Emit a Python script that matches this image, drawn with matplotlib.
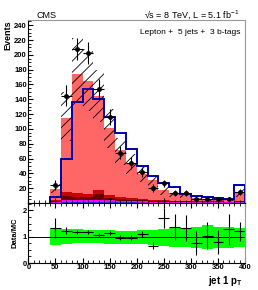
import matplotlib
matplotlib.use('Agg')
import matplotlib.pyplot as plt
from matplotlib.ticker import MultipleLocator
import numpy as np

plt.rcParams['font.family'] = ['Liberation Sans', 'DejaVu Sans']
plt.rcParams['hatch.linewidth'] = 0.6

# 20 GeV bins from 40 to 400
bin_edges = np.arange(40, 401, 20)
bin_centers = bin_edges[:-1] + 10

# stacked backgrounds, bottom to top
bkg_ttv = [0.3, 1, 1, 1, 1, 1, 0.8, 0.7, 0.6, 0.5, 0.5, 0.4, 0.4, 0.3, 0.3, 0.3, 0.3, 0.4]
bkg_singlet = [1, 2.5, 2.5, 2.5, 2.5, 2.5, 2.2, 2, 1.8, 1.5, 1.3, 1.2, 1.1, 1, 1, 0.9, 0.8, 1.2]
bkg_ttbb = [1.5, 6, 5, 5, 8.5, 3, 2.5, 1.5, 1.5, 1.2, 1, 0.8, 0.8, 0.6, 0.5, 0.5, 0.4, 0.8]
bkg_ttb = [0.8, 5, 4.5, 3.5, 5.5, 4.5, 3, 2, 1.2, 1.2, 1, 0.8, 0.8, 0.6, 0.5, 0.5, 0.4, 0.8]
bkg_ttlf = [15.9, 100.5, 161, 153, 127.5, 90, 62.5, 47.8, 33.9, 26.6, 13.2, 8.8, 8.4, 4.5, 3.7, 3.8, 3.1, 10.8]

# relative MC uncertainty (up / down)
mc_unc_up = [1.32, 1.30, 1.28, 1.26, 1.24, 1.26, 1.23, 1.23, 1.25, 1.25, 1.28, 1.32, 1.32, 1.38, 1.44, 1.38, 1.38, 1.32]
mc_unc_dn = [0.70, 0.73, 0.75, 0.75, 0.75, 0.73, 0.72, 0.72, 0.71, 0.69, 0.66, 0.62, 0.62, 0.56, 0.52, 0.56, 0.56, 0.62]

# blue outline histogram
signal = [7.5, 60, 136, 154, 141, 116, 94, 73, 50, 36, 26.5, 21, 11.7, 9.4, 7.6, 6.3, 5, 24]

data = [24, 145, 208, 202, 154, 116, 68, 54, 42, 20, 26.5, 13.5, 14, 5, 5, 5, 5.5, 15]
data_err = [7, 14, 15, 15, 13, 11, 9, 8, 7, 5, 5, 4, 4, 2.5, 2.5, 2.5, 2.5, 4]

ratio = [1.32, 1.23, 1.17, 1.17, 1.06, 1.13, 0.96, 0.96, 1.10, 0.66, 1.70, 1.36, 1.32, 0.77, 1.04, 0.80, 1.28, 1.20]
ratio_err = [0.38, 0.12, 0.08, 0.07, 0.07, 0.08, 0.09, 0.1, 0.12, 0.12, 0.38, 0.5, 0.5, 0.45, 0.5, 0.45, 0.6, 0.35]

stack = [bkg_ttv, bkg_singlet, bkg_ttbb, bkg_ttb, bkg_ttlf]
stack_colors = ['#3333FF', '#FF00FF', '#660000', '#CC0000', '#FF6666']

fig = plt.figure(figsize=(2.58, 2.90), dpi=100)
ax = fig.add_axes([0.110, 0.300, 0.840, 0.631])
axr = fig.add_axes([0.110, 0.093, 0.840, 0.207])

# stacked histograms
bottom = np.zeros(len(bin_centers))
for vals, col in zip(stack, stack_colors):
    vals = np.array(vals)
    ax.stairs(bottom + vals, bin_edges, baseline=bottom, fill=True,
              color=col, linewidth=0)
    bottom = bottom + vals
total = bottom

# MC uncertainty hatch
ax.stairs(total * np.array(mc_unc_up), bin_edges,
          baseline=total * np.array(mc_unc_dn), fill=True,
          facecolor='none', edgecolor='black', hatch='///', linewidth=0)

ax.stairs(signal, bin_edges, baseline=0, color='#0000AA', linewidth=1.4)

ax.errorbar(bin_centers, data, xerr=10, yerr=data_err, fmt='o', color='black',
            markersize=2.5, elinewidth=0.8, capsize=0)

ax.set_xlim(0, 400)
ax.set_ylim(0, 247)
ax.set_yticks(np.arange(20, 241, 20))
ax.yaxis.set_minor_locator(MultipleLocator(5))
ax.xaxis.set_major_locator(MultipleLocator(50))
ax.xaxis.set_minor_locator(MultipleLocator(10))
ax.tick_params(axis='both', which='both', direction='in', labelsize=5.5, pad=1)
ax.tick_params(which='major', length=3.5)
ax.tick_params(which='minor', length=2)
ax.tick_params(axis='x', labelbottom=False)
for lab in ax.get_yticklabels():
    lab.set_fontweight('bold')
ax.set_ylabel('Events', fontsize=6.5, fontweight='bold', loc='top', labelpad=1)
for s in ['top', 'right']:
    ax.spines[s].set_color('#999999')

ax.text(0.98, 0.95, 'Lepton +  5 jets +  3 b-tags', transform=ax.transAxes,
        ha='right', va='top', fontsize=6)
fig.text(0.14, 0.938, 'CMS', fontsize=6.5, ha='left', va='baseline')
fig.text(0.93, 0.938, '√s = 8 TeV, L = 5.1 fb$^{\\mathregular{-1}}$', fontsize=6.5,
         ha='right', va='baseline')

# ratio panel
axr.stairs(np.array(mc_unc_up), bin_edges, baseline=np.array(mc_unc_dn),
           fill=True, color='#00FF00', linewidth=0)
axr.axhline(1, color='black', linewidth=0.7)
axr.errorbar(bin_centers, ratio, xerr=10, yerr=ratio_err, fmt='none',
             ecolor='black', elinewidth=0.8, capsize=0)
axr.set_xlim(0, 400)
axr.set_ylim(0, 2.28)
axr.set_yticks([0, 1, 2])
axr.yaxis.set_minor_locator(MultipleLocator(0.25))
axr.xaxis.set_major_locator(MultipleLocator(50))
axr.xaxis.set_minor_locator(MultipleLocator(10))
axr.tick_params(axis='both', which='both', direction='in', labelsize=5.5, pad=1,
                top=True)
axr.tick_params(which='major', length=3.5)
axr.tick_params(which='minor', length=2)
for lab in axr.get_xticklabels() + axr.get_yticklabels():
    lab.set_fontweight('bold')
axr.set_ylabel('Data/MC', fontsize=5.5, fontweight='bold', labelpad=3)
axr.spines['right'].set_color('#999999')
fig.text(0.94, 0.022, 'jet 1 p$_{\\mathregular{T}}$', fontsize=7,
         fontweight='bold', ha='right', va='baseline')

fig.savefig('out.png', dpi=100)
